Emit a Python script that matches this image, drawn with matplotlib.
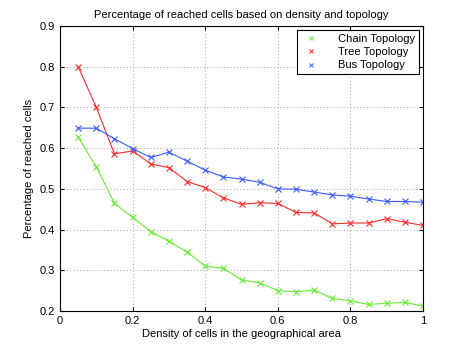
import numpy as np
from matplotlib import pyplot as plt
from matplotlib.lines import Line2D

plt.rcParams['font.family'] = ['Liberation Sans', 'DejaVu Sans']

density = [0.05, 0.1, 0.15, 0.2, 0.25, 0.3, 0.35, 0.4, 0.45, 0.5,
           0.55, 0.6, 0.65, 0.7, 0.75, 0.8, 0.85, 0.9, 0.95, 1.0]
chain = [0.627, 0.554, 0.464, 0.430, 0.395, 0.371, 0.345, 0.310, 0.305, 0.276,
         0.269, 0.250, 0.247, 0.251, 0.231, 0.225, 0.216, 0.219, 0.221, 0.212]
tree = [0.800, 0.700, 0.586, 0.593, 0.561, 0.552, 0.518, 0.503, 0.478, 0.462,
        0.466, 0.464, 0.442, 0.441, 0.414, 0.416, 0.416, 0.427, 0.418, 0.410]
bus = [0.649, 0.649, 0.623, 0.599, 0.577, 0.590, 0.568, 0.546, 0.529, 0.524,
       0.516, 0.500, 0.499, 0.492, 0.485, 0.482, 0.475, 0.469, 0.469, 0.467]

labels = ["Chain Topology", "Tree Topology", "Bus Topology"]
colors = ["#66ee33", "#ff2a2a", "#3a5cff"]

fig = plt.figure(figsize=(4.67, 3.51), dpi=100)
ax = fig.add_axes([0.1285, 0.114, 0.7773, 0.812])

for series, c in zip([chain, tree, bus], colors):
    ax.plot(density, series, color=c, lw=0.8, marker='x', markersize=4, mew=0.8)

ax.set_xlim(0, 1)
ax.set_ylim(0.2, 0.9)
ax.set_xticks(np.arange(0, 1.01, 0.2))
ax.set_xticklabels(["0", "0.2", "0.4", "0.6", "0.8", "1"])
ax.set_yticks(np.arange(0.2, 0.91, 0.1))
ax.set_yticklabels(["%.1f" % v for v in np.arange(0.2, 0.91, 0.1)])
ax.tick_params(direction='in', top=True, right=True, labelsize=8, length=3)
ax.grid(True, linestyle=(0, (1, 3)), color='#888888', lw=0.6)
for s in ax.spines.values():
    s.set_linewidth(0.8)

ax.set_title("Percentage of reached cells based on density and topology", fontsize=8)
ax.set_xlabel("Density of cells in the geographical area", fontsize=8, labelpad=2)
ax.set_ylabel("Percentage of reached cells", fontsize=8, labelpad=4)

handles = [Line2D([], [], color=c, marker='x', linestyle='none', markersize=3.5, mew=0.7)
           for c in colors]
leg = ax.legend(handles, labels, loc='upper right', fontsize=8, fancybox=False,
                edgecolor='black', framealpha=1, handletextpad=1.4, borderaxespad=0.4,
                labelspacing=0.3, borderpad=0.3)
leg.get_frame().set_linewidth(0.8)

fig.savefig("out.png", dpi=100)
